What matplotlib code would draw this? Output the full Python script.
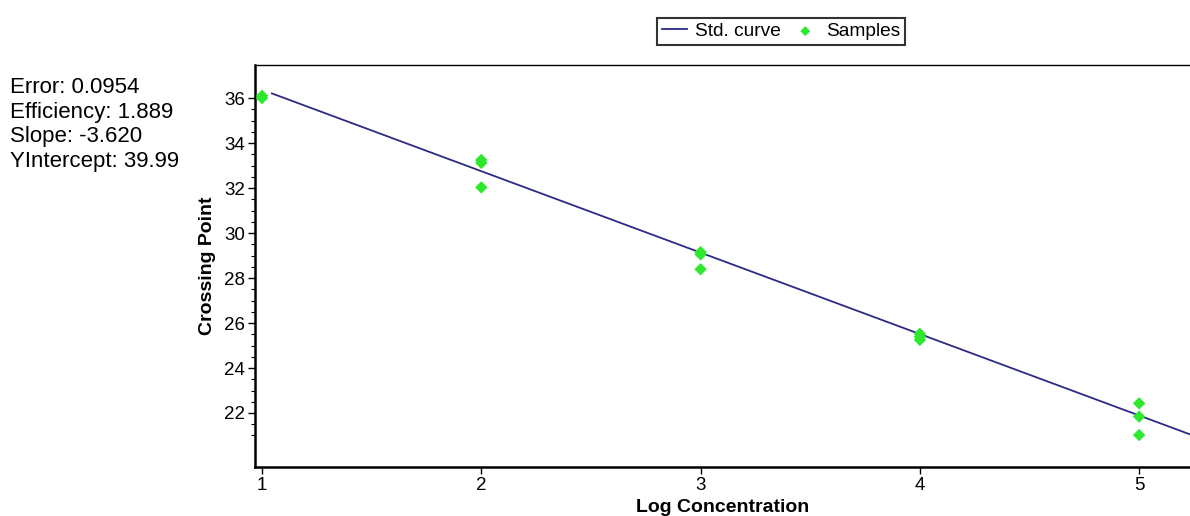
import numpy as np
import matplotlib
matplotlib.use("Agg")
import matplotlib.pyplot as plt
from matplotlib.ticker import FixedLocator, MultipleLocator

plt.rcParams['font.family'] = ['Liberation Sans', 'DejaVu Sans']

# standard curve fit
slope = -3.620
intercept = 39.99
stats = ["Error: 0.0954", "Efficiency: 1.889", "Slope: -3.620", "YIntercept: 39.99"]

# samples
sample_x = [1, 1, 2, 2, 2, 3, 3, 3, 4, 4, 4, 5, 5, 5]
sample_y = [36.1, 36.0, 33.25, 33.12, 32.03, 29.15, 29.05, 28.39,
            25.52, 25.38, 25.25, 22.43, 21.84, 21.02]

y_major = [22, 24, 26, 28, 30, 32, 34, 36]

curve_x = np.array([1.045, 5.24])
curve_y = intercept + slope * curve_x

fig = plt.figure(figsize=(11.9, 5.16), dpi=100)
ax = fig.add_axes([0.2143, 0.095, 0.7857, 0.779])

line, = ax.plot(curve_x, curve_y, color='#2b2b85', lw=1.3, label='Std. curve')
pts = ax.scatter(sample_x, sample_y, marker='D', s=40, color='#2ee82e',
                 edgecolors='none', zorder=3, label='Samples')

ax.set_xlim(0.968, 5.232)
ax.set_ylim(19.6, 37.47)
ax.xaxis.set_major_locator(MultipleLocator(1))
ax.yaxis.set_major_locator(FixedLocator(y_major))
ax.yaxis.set_minor_locator(FixedLocator(np.arange(21, 36.01, 0.5)))
ax.tick_params(axis='both', labelsize=13.5, length=5, width=1, direction='out', pad=2)
ax.tick_params(axis='y', which='minor', length=3, width=0.8)
for s in ['left', 'bottom']:
    ax.spines[s].set_linewidth(1.8)
ax.spines['right'].set_visible(False)
ax.spines['top'].set_linewidth(1.0)

ax.set_xlabel('Log Concentration', fontsize=14, fontweight='bold', labelpad=4)
ax.set_ylabel('Crossing Point', fontsize=14, fontweight='bold', labelpad=6)

leg = fig.legend(handles=[line, pts], loc='center', bbox_to_anchor=(0.6565, 0.939),
                 ncol=2, frameon=True, fancybox=False, edgecolor='black',
                 handlelength=1.3, columnspacing=0.6, handletextpad=0.45,
                 borderpad=0.25, markerscale=0.8, prop={'size': 13.8})
leg.get_frame().set_linewidth(1.5)

fig.text(0.0085, 0.85, "\n".join(stats), fontsize=16, va='top', ha='left',
         linespacing=1.22)

fig.savefig('out.png', dpi=100)
